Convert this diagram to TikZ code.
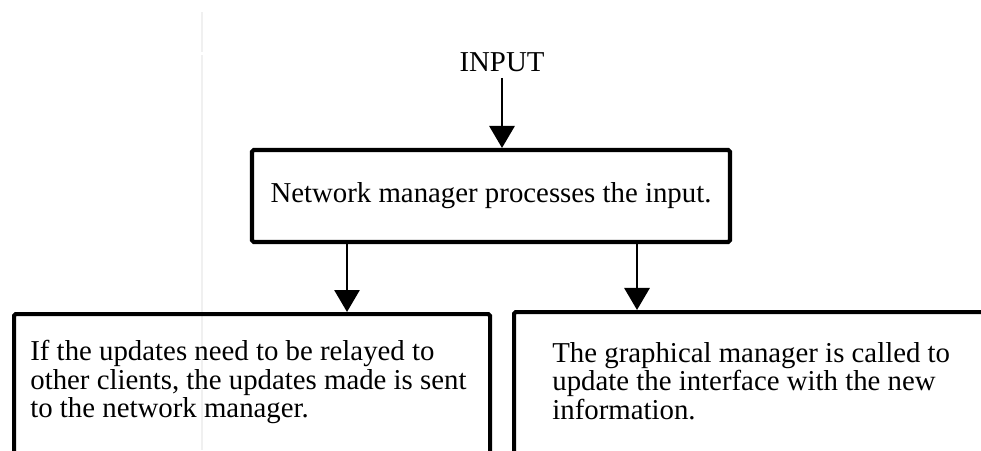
\documentclass[tikz,border=0pt]{standalone}
\usepackage{fontspec}
\setmainfont{Liberation Serif}
\usetikzlibrary{positioning,arrows.meta}

\begin{document}
\begin{tikzpicture}[
    font=\fontsize{16.4}{16.2}\selectfont,
    box/.style={draw, line width=2.3pt, rounded corners=1pt, inner sep=0pt},
    arr/.style={line width=1.7pt, -{Triangle[length=0.44cm,width=0.5cm]}},
    txt/.style={align=left, inner sep=0pt}
]

\clip (0,0) rectangle (19.62,9);

% faint page line behind everything
\draw [black!6, line width=0.6pt] (4.04,8.76) -- (4.04,7.96);
\draw [black!6, line width=0.6pt] (4.04,7.9) -- (4.04,0);

\node (in) at (10.04,7.76) {INPUT};

\node [box, minimum width=9.56cm, minimum height=1.84cm] (net) at (9.82,5.08) {Network manager processes the input.};

\node [box, minimum width=9.52cm, minimum height=3.5cm, anchor=north west] (upd) at (0.24,2.76) {};
\node [box, minimum width=10.3cm, minimum height=3.5cm, anchor=north west] (gui) at (10.24,2.8) {};

\node [txt, below right=0.56cm and 0.36cm of upd.north west] (updtxt) {If the updates need to be relayed to\\ other clients, the updates made is sent\\ to the network manager.};
\node [txt, below right=0.64cm and 0.8cm of gui.north west] (guitxt) {The graphical manager is called to\\ update the interface with the new\\ information.};

\draw [arr] (in) -- (in |- net.north);
\draw [arr] ([xshift=-2.88cm]net.south) -- ([xshift=-2.88cm]net.south |- upd.north);
\draw [arr] ([xshift=2.92cm]net.south) -- ([xshift=2.92cm]net.south |- gui.north);

\end{tikzpicture}
\end{document}
